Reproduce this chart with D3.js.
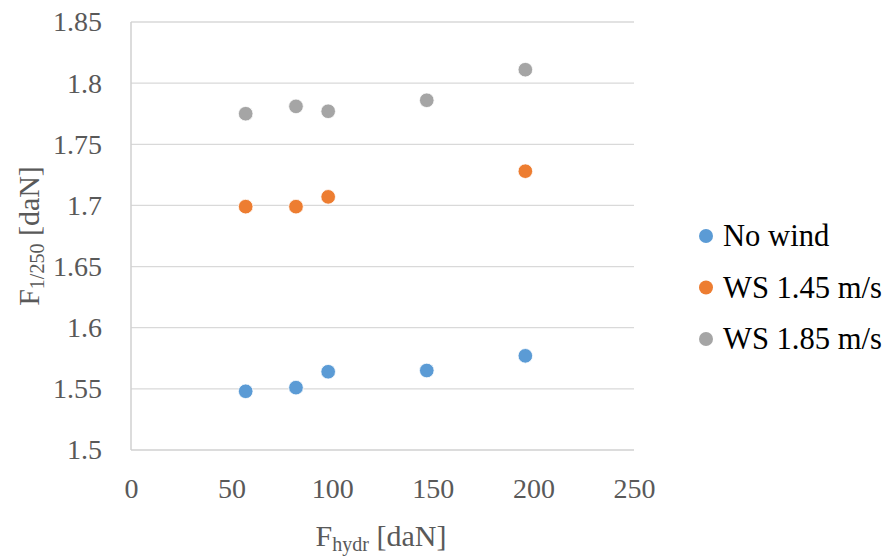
<!DOCTYPE html>
<meta charset="utf-8">
<script src="https://cdn.jsdelivr.net/npm/d3@7"></script>
<style>
  body { margin: 0; background: #fff; }
</style>
<body>
<script>
// values
var seriesNames = ["No wind", "WS 1.45 m/s", "WS 1.85 m/s"];
var colors = ["#5b9bd5", "#ed7d31", "#a5a5a5"];

var noWindX = [57, 82, 98, 147, 196];
var noWindY = [1.548, 1.551, 1.564, 1.565, 1.577];

var ws145X = [57, 82, 98, 196];
var ws145Y = [1.699, 1.699, 1.707, 1.728];

var ws185X = [57, 82, 98, 147, 196];
var ws185Y = [1.775, 1.781, 1.777, 1.786, 1.811];

var xTicks = [0, 50, 100, 150, 200, 250];
var yTicks = [1.5, 1.55, 1.6, 1.65, 1.7, 1.75, 1.8, 1.85];

var series = [
  {name: seriesNames[0], color: colors[0], xs: noWindX, ys: noWindY},
  {name: seriesNames[1], color: colors[1], xs: ws145X, ys: ws145Y},
  {name: seriesNames[2], color: colors[2], xs: ws185X, ys: ws185Y}
];

var FONT = "'Liberation Serif', 'Times New Roman', Times, 'DejaVu Serif', serif";

var W = 886, H = 558;
var margin = {top: 22, left: 131, right: 252, bottom: 108};
var width = W - margin.left - margin.right,
    height = H - margin.top - margin.bottom;

var svg = d3.select("body").append("svg")
    .attr("width", W)
    .attr("height", H)
    .style("font-family", FONT);

var g = svg.append("g")
    .attr("transform", "translate(" + margin.left + "," + margin.top + ")");

var x = d3.scaleLinear().domain([0, 250]).range([0, width]);
var y = d3.scaleLinear().domain([1.5, 1.85]).range([height, 0]);

// gridlines
g.selectAll(".grid")
  .data(yTicks.filter(function(d) { return d > 1.5; }))
  .enter().append("line")
    .attr("x1", 0).attr("x2", width)
    .attr("y1", function(d) { return y(d); })
    .attr("y2", function(d) { return y(d); })
    .attr("stroke", "#d9d9d9")
    .attr("stroke-width", 1.3);

// axes lines
g.append("line").attr("x1", 0).attr("x2", width)
  .attr("y1", height).attr("y2", height)
  .attr("stroke", "#d0d0d0").attr("stroke-width", 1.5);
g.append("line").attr("x1", 0).attr("x2", 0)
  .attr("y1", 0).attr("y2", height)
  .attr("stroke", "#d0d0d0").attr("stroke-width", 1.5);

var yAxis = d3.axisLeft(y).tickValues(yTicks).tickSize(0).tickPadding(29)
  .tickFormat(function(d) { return String(+d.toFixed(2)); });
var yg = g.append("g").call(yAxis);
yg.select(".domain").remove();
yg.attr("font-family", null).attr("font-size", null);
yg.selectAll("text")
  .style("font-family", FONT).style("font-size", "28px").attr("fill", "#595959");

var xAxis = d3.axisBottom(x).tickValues(xTicks).tickSize(0).tickPadding(28);
var xg = g.append("g").attr("transform", "translate(0," + height + ")").call(xAxis);
xg.select(".domain").remove();
xg.attr("font-family", null).attr("font-size", null);
xg.selectAll("text")
  .style("font-family", FONT).style("font-size", "28px").attr("fill", "#595959");

// points
series.forEach(function(s) {
  g.selectAll(null)
    .data(s.xs.map(function(v, i) { return [v, s.ys[i]]; }))
    .enter().append("circle")
      .attr("cx", function(d) { return x(d[0]); })
      .attr("cy", function(d) { return y(d[1]); })
      .attr("r", 7.3)
      .attr("fill", s.color)
      .attr("stroke", "#fff")
      .attr("stroke-width", 0.8);
});

// axis titles
var xt = svg.append("text")
    .attr("x", 381).attr("y", 546)
    .attr("text-anchor", "middle")
    .attr("fill", "#595959")
    .style("font-family", FONT)
    .style("font-size", "30px");
xt.append("tspan").text("F");
xt.append("tspan").attr("dy", 5).style("font-size", "20px").text("hydr");
xt.append("tspan").attr("dy", -5).text(" [daN]");

var yt = svg.append("text")
    .attr("transform", "translate(39,236) rotate(-90)")
    .attr("text-anchor", "middle")
    .attr("fill", "#595959")
    .style("font-family", FONT)
    .style("font-size", "30px");
yt.append("tspan").text("F");
yt.append("tspan").attr("dy", 5).style("font-size", "20px").text("1/250");
yt.append("tspan").attr("dy", -5).text(" [daN]");

// legend
var legend = svg.selectAll(".legend")
    .data(series)
    .enter().append("g")
    .attr("transform", function(d, i) { return "translate(706," + (236 + i * 51.5) + ")"; });

legend.append("circle")
    .attr("r", 7)
    .attr("fill", function(d) { return d.color; });

legend.append("text")
    .attr("x", 17)
    .attr("y", 10)
    .attr("fill", "#000")
    .style("font-family", FONT)
    .style("font-size", "30.6px")
    .text(function(d) { return d.name; });
</script>
</body>
</html>
